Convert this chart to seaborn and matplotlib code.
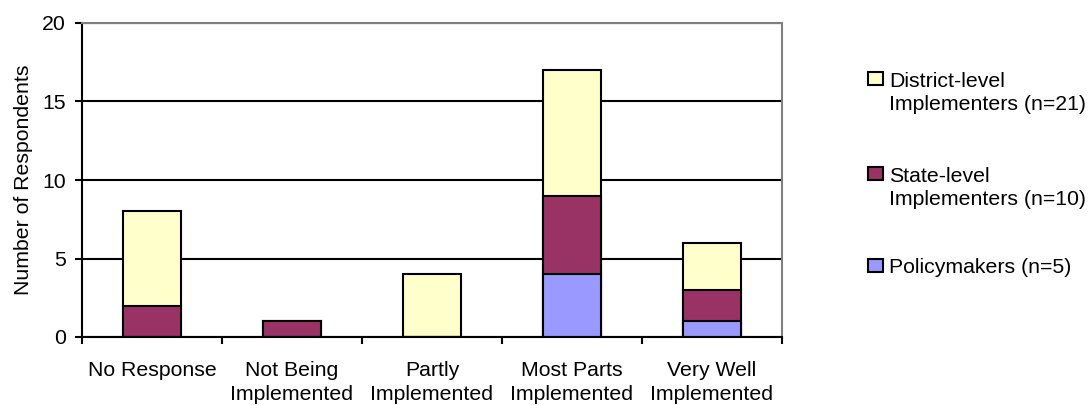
import numpy as np
import pandas as pd
import matplotlib
matplotlib.use("Agg")
import matplotlib.pyplot as plt
import seaborn as sns
from matplotlib.patches import Rectangle

# Survey responses: how well the policy is being implemented
categories = [
    "No Response",
    "Not Being\nImplemented",
    "Partly\nImplemented",
    "Most Parts\nImplemented",
    "Very Well\nImplemented",
]
policymakers = [0, 0, 0, 4, 1]
state_level = [2, 1, 0, 5, 2]
district_level = [6, 0, 4, 8, 3]

series_labels = [
    "Policymakers (n=5)",
    "State-level\nImplementers (n=10)",
    "District-level\nImplementers (n=21)",
]
series_colors = ["#9999FF", "#993366", "#FFFFCC"]
y_ticks = [0, 5, 10, 15, 20]

sns.set_theme(style="white")
plt.rcParams["font.family"] = ["Liberation Sans", "DejaVu Sans"]
for key in ("text.color", "axes.labelcolor", "xtick.color", "ytick.color"):
    plt.rcParams[key] = "black"
FS = 15.3

W, H = 1088, 405
fig = plt.figure(figsize=(W / 100, H / 100), dpi=100)
ax = fig.add_axes([82 / W, 1 - 337 / H, 700 / W, 314 / H])

# cumulative heights of the stacked segments
stack = np.cumsum([policymakers, state_level, district_level], axis=0)
df = pd.DataFrame({"category": categories})

# draw the tallest layer first so each lower segment is painted over it
for i in reversed(range(len(series_labels))):
    df["value"] = stack[i]
    sns.barplot(
        data=df, x="category", y="value", order=categories,
        color=series_colors[i], saturation=1, width=0.41,
        edgecolor="black", linewidth=1.5, errorbar=None, ax=ax,
    )

ax.set_xlim(-0.5, len(categories) - 0.5)
ax.set_ylim(0, 20)
ax.set_yticks(y_ticks)
ax.set_yticklabels([str(t) for t in y_ticks], fontsize=FS)

# tick marks between categories, labels centred under each bar
ax.set_xticks(np.arange(-0.5, len(categories), 1.0))
ax.set_xticklabels([""] * (len(categories) + 1))
ax.set_xticks(range(len(categories)), minor=True)
ax.set_xticklabels(categories, minor=True, fontsize=FS, linespacing=1.35)
ax.tick_params(axis="x", which="major", direction="out", length=5,
               width=1.5, color="black", bottom=True)
ax.tick_params(axis="x", which="minor", length=0, pad=17, bottom=True)
ax.tick_params(axis="y", direction="out", length=5, width=1.5,
               color="black", pad=6.5, left=True)

ax.set_xlabel("")
ax.set_ylabel("Number of Respondents", fontsize=FS, labelpad=7)

ax.yaxis.grid(True, color="black", linewidth=1.5)
ax.set_axisbelow(True)
for side in ("left", "bottom"):
    ax.spines[side].set_color("black")
    ax.spines[side].set_linewidth(1.5)
for side in ("top", "right"):
    ax.spines[side].set_color("#808080")
    ax.spines[side].set_linewidth(1.5)

# legend: swatch level with the first line of each label
swatch_baselines = [273, 181, 86]
label_last_baselines = [273, 205, 110]
for label, color, sb, lb in zip(series_labels, series_colors,
                                swatch_baselines, label_last_baselines):
    fig.patches.append(Rectangle(
        (868 / W, 1 - (sb - 1) / H), 15 / W, 13 / H,
        transform=fig.transFigure, facecolor=color,
        edgecolor="black", linewidth=1.5,
    ))
    fig.text(889 / W, 1 - lb / H, label, fontsize=FS,
             va="baseline", ha="left", linespacing=1.26)

fig.savefig("out.png", dpi=100)
